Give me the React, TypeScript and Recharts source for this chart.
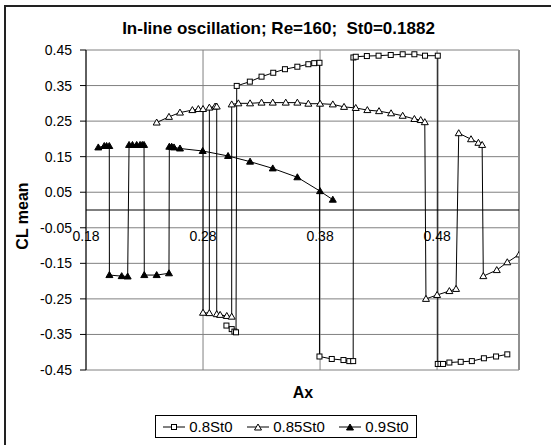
import { ScatterChart, Scatter, XAxis, YAxis, CartesianGrid, ReferenceLine } from 'recharts';

// Ax / CL mean pairs in drawing order (vertical jumps are two points at the same Ax)
const ax08 = [
  0.300, 0.3045, 0.3068, 0.3082,
  0.3088, 0.320, 0.330, 0.340, 0.350, 0.3606, 0.370, 0.375, 0.3795,
  0.3795, 0.390, 0.400, 0.405, 0.4083,
  0.4085, 0.4105, 0.420, 0.430, 0.4404, 0.4506, 0.4606, 0.4697, 0.4806,
  0.4806, 0.4829, 0.4851, 0.4905, 0.5002, 0.5097, 0.520, 0.5304, 0.540,
];
const cl08 = [
  -0.325, -0.335, -0.342, -0.344,
  0.349, 0.361, 0.375, 0.386, 0.396, 0.403, 0.410, 0.413, 0.414,
  -0.412, -0.419, -0.422, -0.425, -0.425,
  0.429, 0.431, 0.433, 0.434, 0.436, 0.438, 0.438, 0.434, 0.434,
  -0.433, -0.433, -0.433, -0.429, -0.427, -0.425, -0.417, -0.412, -0.406,
];

const ax085 = [
  0.2404, 0.2509, 0.2603, 0.2709, 0.276, 0.280,
  0.280, 0.2854,
  0.2854, 0.2903, 0.2917,
  0.2917, 0.2946, 0.3003, 0.3045,
  0.3045, 0.3102, 0.3202, 0.330, 0.3396, 0.3507, 0.3606, 0.370, 0.380, 0.3909,
  0.4005, 0.4105, 0.4204, 0.4304, 0.4407, 0.4506, 0.4606, 0.466, 0.4695,
  0.4705, 0.480, 0.4905, 0.4962,
  0.4985, 0.509, 0.5153, 0.5185,
  0.5195, 0.531, 0.540, 0.5503,
];
const cl085 = [
  0.246, 0.262, 0.274, 0.281, 0.284, 0.284,
  -0.289, -0.290,
  0.288, 0.291, 0.291,
  -0.293, -0.295, -0.298, -0.300,
  0.297, 0.300, 0.300, 0.302, 0.302, 0.302, 0.302, 0.299, 0.299, 0.297,
  0.290, 0.287, 0.281, 0.278, 0.272, 0.265, 0.256, 0.253, 0.247,
  -0.250, -0.239, -0.228, -0.222,
  0.216, 0.199, 0.189, 0.183,
  -0.186, -0.169, -0.147, -0.125,
];

const ax09 = [
  0.1905, 0.1956, 0.1976, 0.1999,
  0.2000, 0.2105, 0.2156,
  0.2168, 0.2197, 0.2233, 0.2262, 0.2281, 0.2296,
  0.2298, 0.2404, 0.2509,
  0.2512, 0.2532, 0.2552, 0.2603, 0.2797, 0.3014, 0.3202, 0.3396, 0.3606, 0.380, 0.3909,
];
const cl09 = [
  0.176, 0.180, 0.180, 0.180,
  -0.183, -0.186, -0.187,
  0.183, 0.183, 0.183, 0.183, 0.183, 0.183,
  -0.183, -0.183, -0.178,
  0.178, 0.178, 0.176, 0.173, 0.166, 0.152, 0.136, 0.117, 0.092, 0.053, 0.029,
];

const xTicks = [0.18, 0.28, 0.38, 0.48];
const yTicks = [-0.45, -0.35, -0.25, -0.15, -0.05, 0.05, 0.15, 0.25, 0.35, 0.45];
const seriesNames = ['0.8St0', '0.85St0', '0.9St0'];

const FONT = "'Liberation Sans', Arial, sans-serif";

const toPoints = (xs: number[], ys: number[]) => xs.map((x, i) => ({ ax: x, cl: ys[i] }));

const data08 = toPoints(ax08, cl08);
const data085 = toPoints(ax085, cl085);
const data09 = toPoints(ax09, cl09);

const SquareMark = (p: any) => (
  <rect x={p.cx - 2.5} y={p.cy - 2.5} width={5} height={5} fill="#fff" stroke="#000" strokeWidth={1} />
);

const triPoints = (cx: number, cy: number) =>
  `${cx},${cy - 3.5} ${cx - 3.5},${cy + 2.5} ${cx + 3.5},${cy + 2.5}`;

const OpenTriangle = (p: any) => (
  <polygon points={triPoints(p.cx, p.cy)} fill="#fff" stroke="#000" strokeWidth={1} />
);

const FilledTriangle = (p: any) => (
  <polygon points={triPoints(p.cx, p.cy)} fill="#000" stroke="#000" strokeWidth={1} />
);

// x tick labels sit just under the y=0 axis line, as in Excel
const XTick = (props: any) => (
  <text x={props.x} y={props.y - 137.5} textAnchor="middle" fontSize={14} fontFamily={FONT} fill="#000">
    {Number(props.payload.value).toFixed(2)}
  </text>
);

function LegendIcon({ kind }: { kind: number }) {
  return (
    <svg width={22} height={10} style={{ display: 'block' }}>
      <line x1={0} y1={5} x2={22} y2={5} stroke="#000" strokeWidth={1} />
      {kind === 0 && <rect x={8.5} y={2.5} width={5} height={5} fill="#fff" stroke="#000" />}
      {kind === 1 && <polygon points={triPoints(11, 5.5)} fill="#fff" stroke="#000" />}
      {kind === 2 && <polygon points={triPoints(11, 5.5)} fill="#000" stroke="#000" />}
    </svg>
  );
}

export default function App() {
  return (
    <div
      style={{
        position: 'absolute',
        left: 0,
        top: 0,
        width: 551,
        height: 445,
        overflow: 'hidden',
        background: '#fff',
        fontFamily: FONT,
      }}
    >
      <div
        style={{
          position: 'absolute',
          left: 4,
          top: 5,
          width: 600,
          height: 500,
          border: '2px solid #222',
        }}
      />
      <div
        style={{
          position: 'absolute',
          left: 3,
          top: 19,
          width: 551,
          textAlign: 'center',
          fontSize: 17,
          fontWeight: 'bold',
          whiteSpace: 'pre',
        }}
      >
        {'In-line oscillation; Re=160;  St0=0.1882'}
      </div>

      <div style={{ position: 'absolute', left: 0, top: 0 }}>
        <ScatterChart width={551} height={445} margin={{ top: 50, right: 32, bottom: 45, left: 0 }}>
          <CartesianGrid stroke="#808080" strokeWidth={1} />
          <XAxis
            type="number"
            dataKey="ax"
            domain={[0.18, 0.55]}
            ticks={xTicks}
            allowDataOverflow
            axisLine={false}
            tickLine={false}
            height={30}
            tick={<XTick />}
          />
          <YAxis
            type="number"
            dataKey="cl"
            domain={[-0.45, 0.45]}
            ticks={yTicks}
            allowDataOverflow
            width={86}
            tickFormatter={(v: number) => v.toFixed(2)}
            tick={{ fontSize: 14, fill: '#000', fontFamily: FONT }}
            axisLine={{ stroke: '#000' }}
            tickLine={{ stroke: '#000' }}
            tickSize={6}
            tickMargin={8}
          />
          <ReferenceLine x={0.55} stroke="#909090" strokeWidth={2} />
          <ReferenceLine y={0} stroke="#000" strokeWidth={1} />
          <Scatter
            name={seriesNames[0]}
            data={data08}
            line={{ stroke: '#000', strokeWidth: 1 }}
            lineType="joint"
            shape={SquareMark}
            isAnimationActive={false}
          />
          <Scatter
            name={seriesNames[1]}
            data={data085}
            line={{ stroke: '#000', strokeWidth: 1 }}
            lineType="joint"
            shape={OpenTriangle}
            isAnimationActive={false}
          />
          <Scatter
            name={seriesNames[2]}
            data={data09}
            line={{ stroke: '#000', strokeWidth: 1 }}
            lineType="joint"
            shape={FilledTriangle}
            isAnimationActive={false}
          />
        </ScatterChart>
      </div>

      <div
        style={{
          position: 'absolute',
          left: 3,
          top: 6,
          width: 40,
          height: 420,
          display: 'flex',
          alignItems: 'center',
          justifyContent: 'center',
        }}
      >
        <div
          style={{
            transform: 'rotate(-90deg)',
            fontSize: 16,
            fontWeight: 'bold',
            whiteSpace: 'nowrap',
            marginTop: 0,
          }}
        >
          CL mean
        </div>
      </div>
      <div
        style={{
          position: 'absolute',
          left: 263,
          top: 384,
          width: 80,
          textAlign: 'center',
          fontSize: 16,
          fontWeight: 'bold',
        }}
      >
        Ax
      </div>

      <div
        style={{
          position: 'absolute',
          left: 155,
          top: 415,
          width: 260,
          height: 21,
          border: '1px solid #000',
          display: 'flex',
          alignItems: 'center',
          justifyContent: 'space-around',
          fontSize: 15,
        }}
      >
        {seriesNames.map((n, i) => (
          <div key={n} style={{ display: 'flex', alignItems: 'center' }}>
            <LegendIcon kind={i} />
            <span style={{ marginLeft: 4 }}>{n}</span>
          </div>
        ))}
      </div>
    </div>
  );
}
